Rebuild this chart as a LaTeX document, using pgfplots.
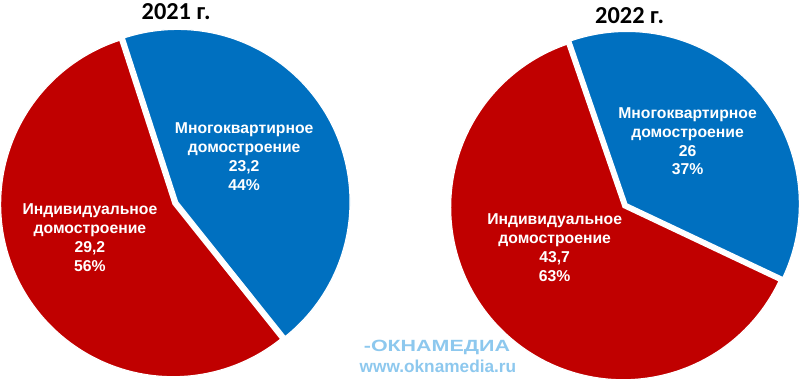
\documentclass[border=0pt]{standalone}
\usepackage{pgfplots}
\pgfplotsset{compat=1.18}
\usepackage{fontspec}
\usepackage{graphicx}
\setmainfont{Liberation Sans}
\newfontfamily\titlefont{Carlito}

\definecolor{pieRed}{HTML}{C00000}
\definecolor{pieBlue}{HTML}{0070C0}
\definecolor{wm}{HTML}{8DC8EE}

% data (млн кв. м)
\def\indA{29.2}\def\mkdA{23.2}% 2021
\def\indB{43.7}\def\mkdB{26}% 2022

\begin{document}
\begin{tikzpicture}
% angles, clockwise from 12 o'clock
\pgfmathsetmacro\sA{-18}
\pgfmathsetmacro\eA{\sA+360*\mkdA/(\mkdA+\indA)}
\pgfmathsetmacro\fA{\sA+360}
\pgfmathsetmacro\mA{(\sA+\eA)/2}
\pgfmathsetmacro\bxA{180+5*sin(\mA)}
\pgfmathsetmacro\byA{208-5*cos(\mA)}
\pgfmathsetmacro\sB{-19}
\pgfmathsetmacro\eB{\sB+360*\mkdB/(\mkdB+\indB)}
\pgfmathsetmacro\fB{\sB+360}
\pgfmathsetmacro\mB{(\sB+\eB)/2}
\pgfmathsetmacro\bxB{623.5+5*sin(\mB)}
\pgfmathsetmacro\byB{211-5*cos(\mB)}
\begin{axis}[x=1pt,y=1pt,xmin=0,xmax=800,ymin=0,ymax=386,y dir=reverse,
  hide axis,clip=false]
% 2021
\addplot[fill=pieRed,draw=white,line width=1.2pt,domain=\eA:\fA,samples=160,variable=\t]
  ({180+170*sin(\t)},{208-170*cos(\t)}) -- (axis cs:180,208) -- cycle;
\addplot[fill=pieBlue,draw=white,line width=1.2pt,domain=\sA:\eA,samples=120,variable=\t]
  ({\bxA+170*sin(\t)},{\byA-170*cos(\t)}) -- (axis cs:\bxA,\byA) -- cycle;
% 2022
\addplot[fill=pieRed,draw=white,line width=1.2pt,domain=\eB:\fB,samples=160,variable=\t]
  ({623.5+170*sin(\t)},{211-170*cos(\t)}) -- (axis cs:623.5,211) -- cycle;
\addplot[fill=pieBlue,draw=white,line width=1.2pt,domain=\sB:\eB,samples=120,variable=\t]
  ({\bxB+170*sin(\t)},{\byB-170*cos(\t)}) -- (axis cs:\bxB,\byB) -- cycle;

% titles
\node[font=\titlefont\bfseries\fontsize{24}{28}\selectfont] at (axis cs:183,18) {2021 г.};
\node[font=\titlefont\bfseries\fontsize{24}{28}\selectfont] at (axis cs:630,22) {2022 г.};

% labels
\tikzset{lbl/.style={text=white,align=center,font=\bfseries\fontsize{15.5}{18.6}\selectfont}}
\node[lbl] at (axis cs:250,161) {Многоквартирное\\домостроение\\23,2\\44\%};
\node[lbl] at (axis cs:98,241) {Индивидуальное\\домостроение\\29,2\\56\%};
\node[lbl] at (axis cs:687,146) {Многоквартирное\\домостроение\\26\\37\%};
\node[lbl] at (axis cs:556,251) {Индивидуальное\\домостроение\\43,7\\63\%};

% watermark
\node[text=wm,font=\bfseries\fontsize{16}{18}\selectfont] at (axis cs:440,349)
  {\scalebox{1.32}[1]{-ОКНАМЕДИА}};
\node[text=wm,font=\bfseries\fontsize{17}{19}\selectfont] at (axis cs:441,368)
  {www.oknamedia.ru};
\end{axis}
\end{tikzpicture}
\end{document}
